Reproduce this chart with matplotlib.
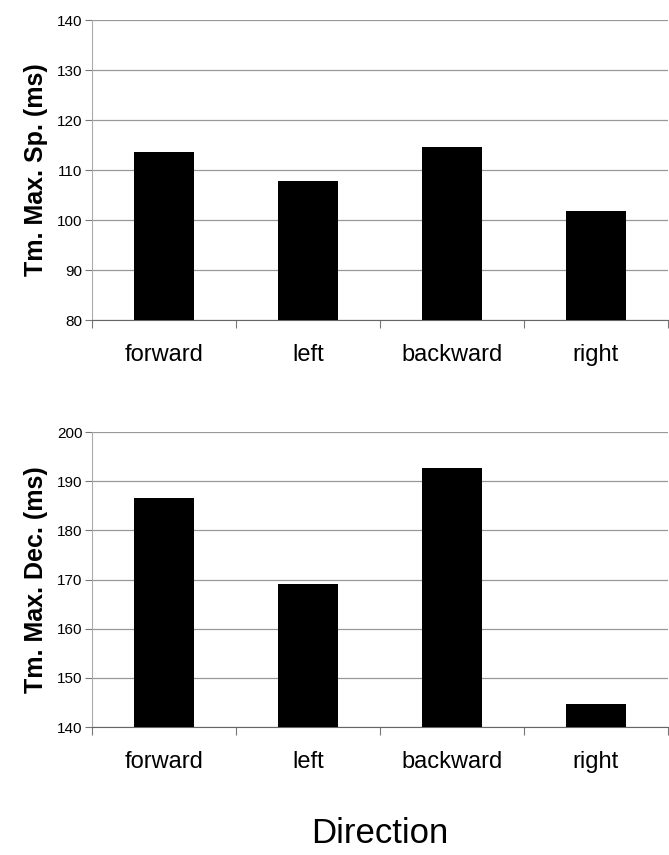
import matplotlib
matplotlib.use("Agg")
import matplotlib.pyplot as plt
import numpy as np
from matplotlib import font_manager

names = {f.name for f in font_manager.fontManager.ttflist}
narrow = "Liberation Sans Narrow" if "Liberation Sans Narrow" in names else "Liberation Sans"

categories = ["forward", "left", "backward", "right"]
max_speed = [113.5, 107.8, 114.6, 101.7]
max_decel = [186.5, 169.0, 192.7, 144.7]
yticks_top = [80, 90, 100, 110, 120, 130, 140]
yticks_bot = [140, 150, 160, 170, 180, 190, 200]

fig = plt.figure(figsize=(6.69, 8.55), dpi=100)
W, H = 669, 855

def make_ax(top_px, bot_px, vals, ticks, ylabel):
    ax = fig.add_axes([92 / W, 1 - bot_px / H, 576 / W, (bot_px - top_px) / H])
    x = np.arange(len(categories))
    lo, hi = ticks[0], ticks[-1]
    ax.bar(x, np.array(vals) - lo, bottom=lo, width=0.41, color="black", zorder=3)
    ax.set_xlim(-0.5, len(categories) - 0.5)
    ax.set_ylim(lo, hi)
    ax.set_yticks(ticks)
    ax.set_yticklabels([str(t) for t in ticks], family=narrow, fontsize=11)
    ax.yaxis.grid(True, color="#999999", linewidth=0.9, zorder=0)
    ax.set_xticks(np.arange(-0.5, len(categories), 1.0))
    ax.set_xticklabels([])
    ax.set_xticks(x, minor=True)
    ax.set_xticklabels(categories, minor=True, family=narrow, fontsize=17)
    ax.tick_params(axis="x", which="minor", length=0, pad=17)
    ax.tick_params(axis="x", which="major", length=6, color="#777777", direction="out")
    ax.tick_params(axis="y", length=5, color="#777777", direction="out", pad=2)
    for s in ["top", "right"]:
        ax.spines[s].set_visible(False)
    ax.spines["left"].set_color("#aaaaaa")
    ax.spines["bottom"].set_color("#666666")
    ax.set_ylabel(ylabel, fontsize=18, fontweight="bold", family="Liberation Sans", labelpad=6)
    return ax

make_ax(20, 320, max_speed, yticks_top, "Tm. Max. Sp. (ms)")
make_ax(432, 727, max_decel, yticks_bot, "Tm. Max. Dec. (ms)")

fig.text(380 / W, 1 - 833 / H, "Direction", ha="center", va="center",
         family="Liberation Sans", fontsize=25)

fig.savefig("out.png", dpi=100)
